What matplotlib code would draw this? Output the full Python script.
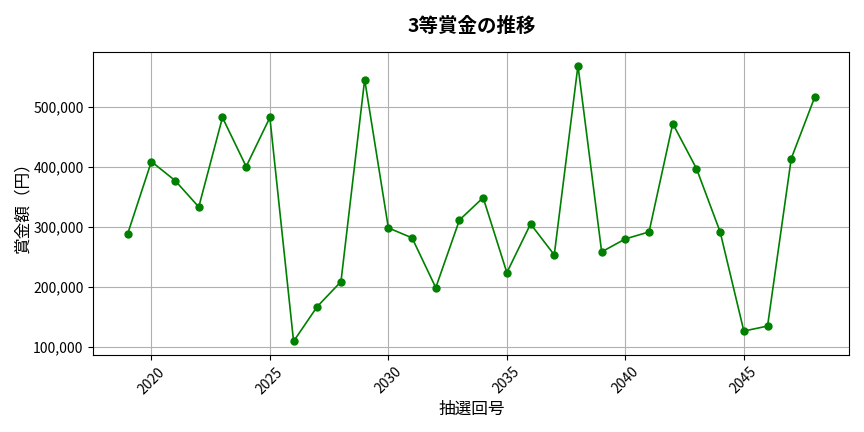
import matplotlib
matplotlib.use("Agg")
import matplotlib.pyplot as plt
from matplotlib.ticker import FuncFormatter

plt.rcParams['font.family'] = ['Noto Sans CJK JP', 'DejaVu Sans']

draws = list(range(2019, 2049))
prizes = [288000, 408300, 376700, 332700, 481700, 400000, 481700, 108900,
          166800, 208300, 544900, 297800, 281200, 198300, 311000, 348200,
          223300, 304400, 252900, 568100, 257900, 279500, 291100, 471500,
          396700, 291100, 126000, 134300, 413300, 516600]

fig = plt.figure(figsize=(8.64, 4.32), dpi=100)
ax = fig.add_axes([0.108, 0.178, 0.875, 0.702])
ax.plot(draws, prizes, marker='o', color='green', markersize=5, linewidth=1.2)
ax.set_title('3等賞金の推移', fontsize=14, fontweight='bold', pad=14)
ax.set_xlabel('抽選回号', fontsize=12, labelpad=3)
ax.set_ylabel('賞金額（円）', fontsize=12, labelpad=1)
ax.yaxis.set_major_formatter(FuncFormatter(lambda v, p: f'{int(v):,}'))
ax.tick_params(axis='x', labelrotation=45, labelsize=10)
ax.tick_params(axis='y', labelsize=10)
ax.grid(True, color='#b0b0b0', linewidth=0.8)
fig.savefig('out.png', dpi=100)
